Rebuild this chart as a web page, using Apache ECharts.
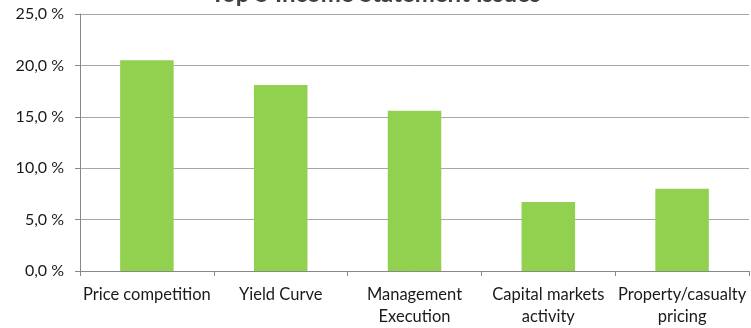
<!DOCTYPE html>
<html><head><meta charset="utf-8">
<script src="https://cdn.jsdelivr.net/npm/echarts@6/dist/echarts.min.js"></script>
<style>html,body{margin:0;padding:0;background:#fff}#c{width:751px;height:328px}</style>
</head><body><div id="c"></div>
<script>
const titleText = 'Top 5 Income Statement Issues';
const categories = ['Price competition', 'Yield Curve', 'Management\nExecution', 'Capital markets\nactivity', 'Property/casualty\npricing'];
const values = [20.5, 18.1, 15.6, 6.7, 8.0];
const yTicks = [0, 5, 10, 15, 20, 25];

const chart = echarts.init(document.getElementById('c'));
chart.setOption({
  animation: false,
  title: { text: titleText, left: 'center', top: -18, padding: 0,
    textStyle: { fontFamily: 'Lato', fontWeight: 'bold', fontSize: 24, color: '#404040' } },
  grid: { left: 80, right: 2, top: 14, bottom: 56 },
  xAxis: { type: 'category', data: categories,
    axisLine: { lineStyle: { color: '#888', width: 1 } },
    axisTick: { show: true, length: 5, lineStyle: { color: '#888' } },
    axisLabel: { color: '#1a1a1a', fontFamily: 'Lato', fontSize: 16.5, lineHeight: 22, margin: 13, interval: 0 } },
  yAxis: { type: 'value', min: yTicks[0], max: yTicks[yTicks.length - 1], interval: 5,
    axisLine: { show: true, lineStyle: { color: '#888' } },
    axisTick: { show: true, length: 5, lineStyle: { color: '#888' } },
    splitLine: { lineStyle: { color: '#a6a6a6' } },
    axisLabel: { color: '#1a1a1a', fontFamily: 'Lato', fontSize: 16, margin: 16,
      formatter: v => v.toFixed(1).replace('.', ',') + ' %' } },
  series: [{ type: 'bar', data: values, barWidth: '40%', itemStyle: { color: '#92D050' } }]
});
</script></body></html>
